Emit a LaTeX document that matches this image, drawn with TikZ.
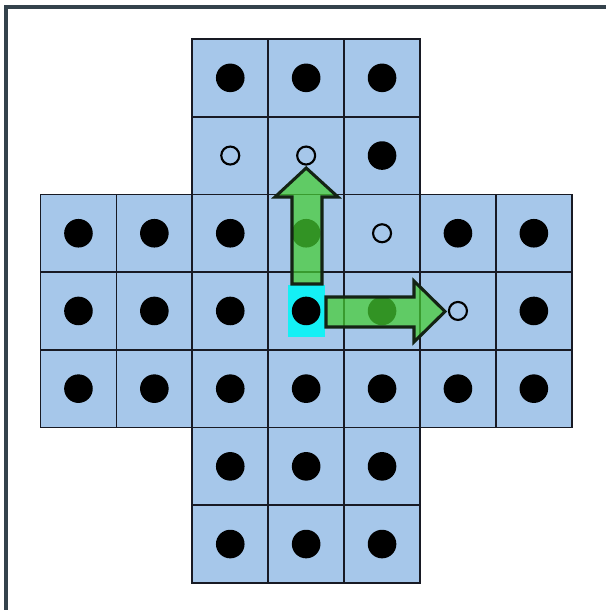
\documentclass[tikz,border=0pt]{standalone}
\begin{document}
\begin{tikzpicture}[x=0.75pt,y=-0.75pt,
  cellbox/.style={fill=cellblue,draw=gridline,line width=1.3pt},
  peg/.style={fill=black},
  hole/.style={draw=black,line width=1.6pt},
  movearrow/.style={fill=movegreen,fill opacity=0.72,draw=arrowline,line width=2.3pt,line join=miter},
  frameline/.style={draw=framegray,line width=2.6pt}]
\definecolor{cellblue}{RGB}{166,199,234}
\definecolor{gridline}{RGB}{24,26,36}
\definecolor{movegreen}{RGB}{70,205,50}
\definecolor{arrowline}{RGB}{20,35,20}
\definecolor{framegray}{RGB}{52,66,76}
\definecolor{selcyan}{RGB}{20,240,245}
\useasboundingbox (0,0) rectangle (606,610);
\fill[white] (0,0) rectangle (606,610);
\draw[frameline] (6,610) -- (6,7) -- (606,7);
\def\cw{75.9}\def\ch{77.7}\def\xo{40.5}\def\yo{39}
% cells
\foreach \r/\cols in {0/{2,3,4},1/{2,3,4},2/{0,1,2,3,4,5,6},3/{0,1,2,3,4,5,6},4/{0,1,2,3,4,5,6},5/{2,3,4},6/{2,3,4}}{
  \foreach \c in \cols {
    \draw[cellbox] ({\xo+\c*\cw},{\yo+\r*\ch}) rectangle ({\xo+(\c+1)*\cw},{\yo+(\r+1)*\ch});
  }
}
% selected peg highlight
\fill[selcyan] (288,285) rectangle (325,337);
% pegs
\foreach \r/\cols in {0/{2,3,4},1/{4},2/{0,1,2,3,5,6},3/{0,1,2,3,4,6},4/{0,1,2,3,4,5,6},5/{2,3,4},6/{2,3,4}}{
  \foreach \c in \cols {
    \fill[peg] ({\xo+(\c+0.5)*\cw},{\yo+(\r+0.5)*\ch}) circle (14.3);
  }
}
% move arrows
\draw[movearrow] (292,284) -- (292,197) -- (275,197) -- (306.2,168) -- (338,197) -- (322,197) -- (322,284) -- cycle;
\draw[movearrow] (326,297) -- (414,297) -- (414,281) -- (445,311.5) -- (414,342) -- (414,327) -- (326,327) -- cycle;
% holes
\foreach \r/\c in {1/2,1/3,2/4,3/5}{
  \draw[hole] ({\xo+(\c+0.5)*\cw},{\yo+(\r+0.5)*\ch}) circle (9);
}
\end{tikzpicture}
\end{document}
